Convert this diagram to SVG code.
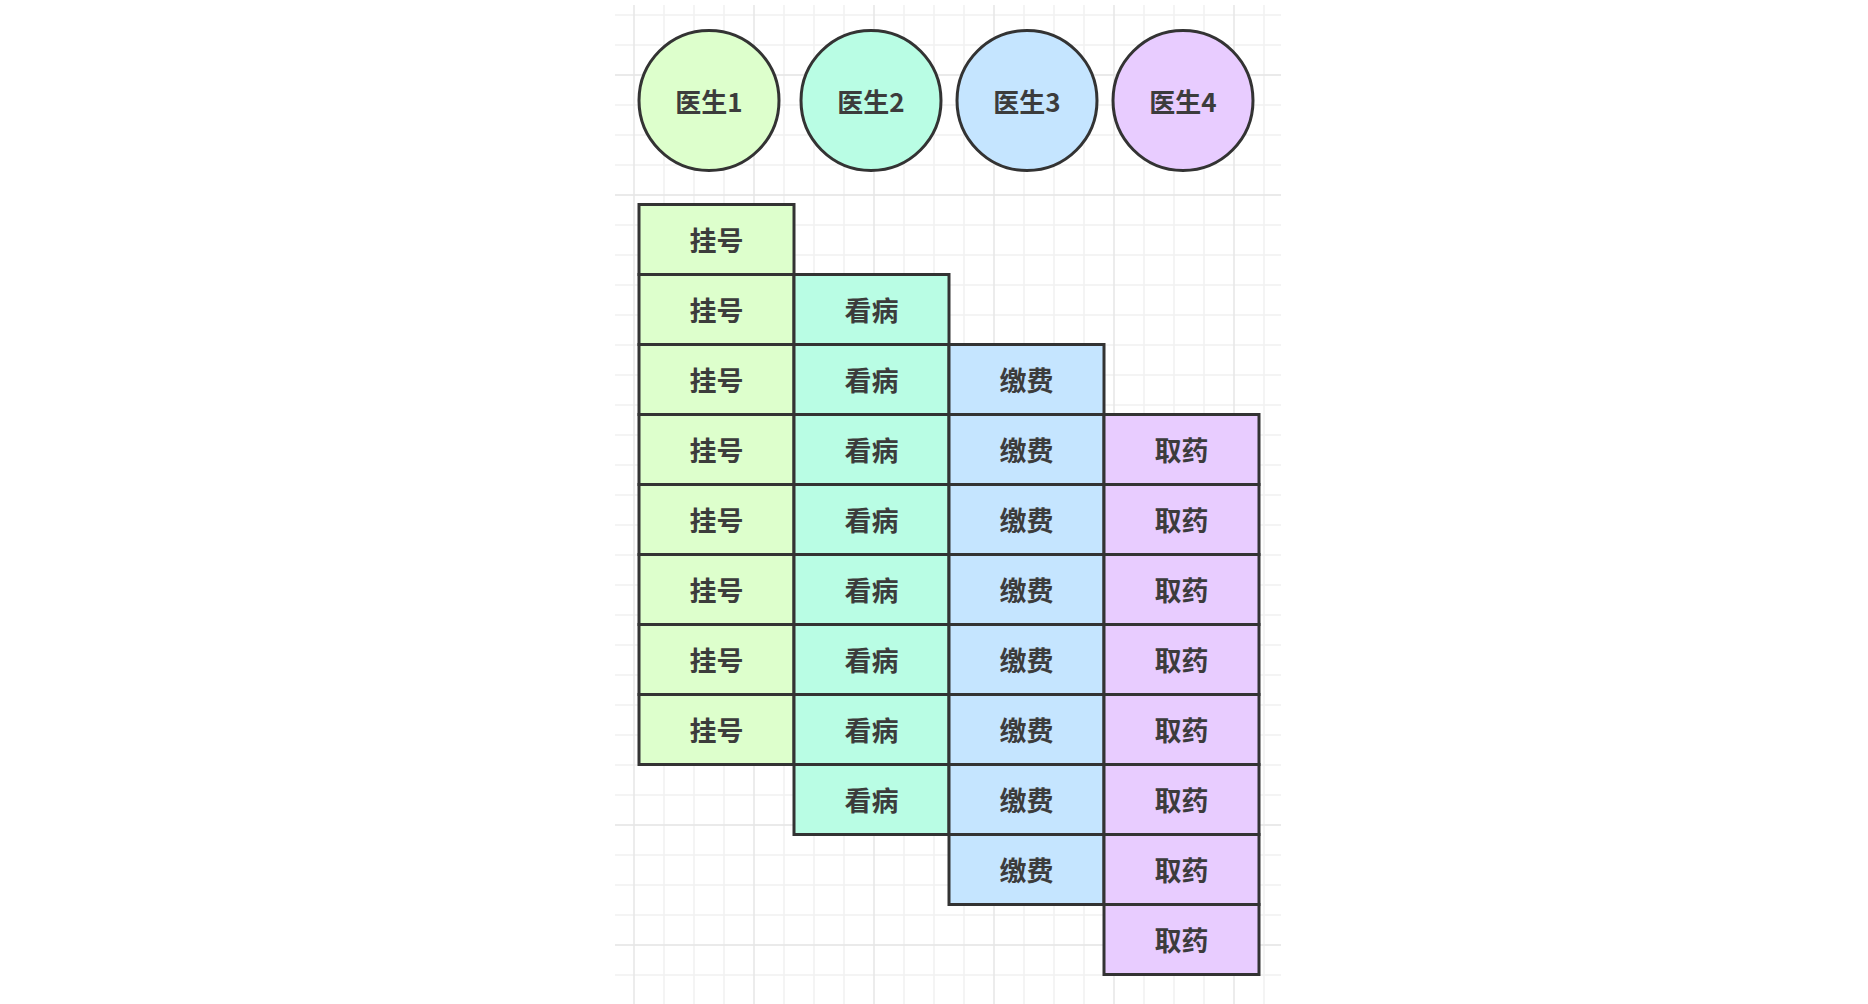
<svg xmlns="http://www.w3.org/2000/svg" width="1868" height="1004" viewBox="0 0 1868 1004">
<style>
.minor{stroke:#f1f1f1;stroke-width:1.5;fill:none}
.major{stroke:#e6e6e6;stroke-width:1.5;fill:none}
.doc circle,.cell rect{stroke:#333333;stroke-width:3}
text{font-family:"Noto Sans CJK SC","Microsoft YaHei",sans-serif;font-size:27px;font-weight:700;fill:#3c3c3c;text-anchor:middle;dominant-baseline:central}
.doc text{font-size:26px}
.c1{fill:#ddffcc}.c2{fill:#b9fde4}.c3{fill:#c5e5ff}.c4{fill:#e8ccff}
</style>
<rect x="0" y="0" width="1868" height="1004" fill="#ffffff"/>
<g id="grid">
<path class="minor" d="M615 15H1281M615 45H1281M615 75H1281M615 105H1281M615 135H1281M615 165H1281M615 195H1281M615 225H1281M615 255H1281M615 285H1281M615 315H1281M615 345H1281M615 375H1281M615 405H1281M615 435H1281M615 465H1281M615 495H1281M615 525H1281M615 555H1281M615 585H1281M615 615H1281M615 645H1281M615 675H1281M615 705H1281M615 735H1281M615 765H1281M615 795H1281M615 825H1281M615 855H1281M615 885H1281M615 915H1281M615 945H1281M615 975H1281"/>
<path class="minor" d="M664 5V1004M694 5V1004M724 5V1004M784 5V1004M814 5V1004M844 5V1004M904 5V1004M934 5V1004M964 5V1004M1024 5V1004M1054 5V1004M1084 5V1004M1144 5V1004M1174 5V1004M1204 5V1004M1264 5V1004"/>
<path class="major" d="M634 5V1004M754 5V1004M874 5V1004M994 5V1004M1114 5V1004M1234 5V1004M615 75H1281M615 195H1281M615 825H1281M615 945H1281"/>
</g>
<g id="connectors"/>
<g id="doctor1" class="doc"><circle class="c1" cx="709" cy="100.5" r="70"/><text x="709" y="100">医生1</text></g>
<g id="doctor2" class="doc"><circle class="c2" cx="871" cy="100.5" r="70"/><text x="871" y="100">医生2</text></g>
<g id="doctor3" class="doc"><circle class="c3" cx="1027" cy="100.5" r="70"/><text x="1027" y="100">医生3</text></g>
<g id="doctor4" class="doc"><circle class="c4" cx="1183" cy="100.5" r="70"/><text x="1183" y="100">医生4</text></g>
<g id="c1r0" class="cell"><rect class="c1" x="639" y="204.5" width="155" height="70"/><text x="716.5" y="239.5">挂号</text></g>
<g id="c1r1" class="cell"><rect class="c1" x="639" y="274.5" width="155" height="70"/><text x="716.5" y="309.5">挂号</text></g>
<g id="c1r2" class="cell"><rect class="c1" x="639" y="344.5" width="155" height="70"/><text x="716.5" y="379.5">挂号</text></g>
<g id="c1r3" class="cell"><rect class="c1" x="639" y="414.5" width="155" height="70"/><text x="716.5" y="449.5">挂号</text></g>
<g id="c1r4" class="cell"><rect class="c1" x="639" y="484.5" width="155" height="70"/><text x="716.5" y="519.5">挂号</text></g>
<g id="c1r5" class="cell"><rect class="c1" x="639" y="554.5" width="155" height="70"/><text x="716.5" y="589.5">挂号</text></g>
<g id="c1r6" class="cell"><rect class="c1" x="639" y="624.5" width="155" height="70"/><text x="716.5" y="659.5">挂号</text></g>
<g id="c1r7" class="cell"><rect class="c1" x="639" y="694.5" width="155" height="70"/><text x="716.5" y="729.5">挂号</text></g>
<g id="c2r1" class="cell"><rect class="c2" x="794" y="274.5" width="155" height="70"/><text x="871.5" y="309.5">看病</text></g>
<g id="c2r2" class="cell"><rect class="c2" x="794" y="344.5" width="155" height="70"/><text x="871.5" y="379.5">看病</text></g>
<g id="c2r3" class="cell"><rect class="c2" x="794" y="414.5" width="155" height="70"/><text x="871.5" y="449.5">看病</text></g>
<g id="c2r4" class="cell"><rect class="c2" x="794" y="484.5" width="155" height="70"/><text x="871.5" y="519.5">看病</text></g>
<g id="c2r5" class="cell"><rect class="c2" x="794" y="554.5" width="155" height="70"/><text x="871.5" y="589.5">看病</text></g>
<g id="c2r6" class="cell"><rect class="c2" x="794" y="624.5" width="155" height="70"/><text x="871.5" y="659.5">看病</text></g>
<g id="c2r7" class="cell"><rect class="c2" x="794" y="694.5" width="155" height="70"/><text x="871.5" y="729.5">看病</text></g>
<g id="c2r8" class="cell"><rect class="c2" x="794" y="764.5" width="155" height="70"/><text x="871.5" y="799.5">看病</text></g>
<g id="c3r2" class="cell"><rect class="c3" x="949" y="344.5" width="155" height="70"/><text x="1026.5" y="379.5">缴费</text></g>
<g id="c3r3" class="cell"><rect class="c3" x="949" y="414.5" width="155" height="70"/><text x="1026.5" y="449.5">缴费</text></g>
<g id="c3r4" class="cell"><rect class="c3" x="949" y="484.5" width="155" height="70"/><text x="1026.5" y="519.5">缴费</text></g>
<g id="c3r5" class="cell"><rect class="c3" x="949" y="554.5" width="155" height="70"/><text x="1026.5" y="589.5">缴费</text></g>
<g id="c3r6" class="cell"><rect class="c3" x="949" y="624.5" width="155" height="70"/><text x="1026.5" y="659.5">缴费</text></g>
<g id="c3r7" class="cell"><rect class="c3" x="949" y="694.5" width="155" height="70"/><text x="1026.5" y="729.5">缴费</text></g>
<g id="c3r8" class="cell"><rect class="c3" x="949" y="764.5" width="155" height="70"/><text x="1026.5" y="799.5">缴费</text></g>
<g id="c3r9" class="cell"><rect class="c3" x="949" y="834.5" width="155" height="70"/><text x="1026.5" y="869.5">缴费</text></g>
<g id="c4r3" class="cell"><rect class="c4" x="1104" y="414.5" width="155" height="70"/><text x="1181.5" y="449.5">取药</text></g>
<g id="c4r4" class="cell"><rect class="c4" x="1104" y="484.5" width="155" height="70"/><text x="1181.5" y="519.5">取药</text></g>
<g id="c4r5" class="cell"><rect class="c4" x="1104" y="554.5" width="155" height="70"/><text x="1181.5" y="589.5">取药</text></g>
<g id="c4r6" class="cell"><rect class="c4" x="1104" y="624.5" width="155" height="70"/><text x="1181.5" y="659.5">取药</text></g>
<g id="c4r7" class="cell"><rect class="c4" x="1104" y="694.5" width="155" height="70"/><text x="1181.5" y="729.5">取药</text></g>
<g id="c4r8" class="cell"><rect class="c4" x="1104" y="764.5" width="155" height="70"/><text x="1181.5" y="799.5">取药</text></g>
<g id="c4r9" class="cell"><rect class="c4" x="1104" y="834.5" width="155" height="70"/><text x="1181.5" y="869.5">取药</text></g>
<g id="c4r10" class="cell"><rect class="c4" x="1104" y="904.5" width="155" height="70"/><text x="1181.5" y="939.5">取药</text></g>
</svg>
